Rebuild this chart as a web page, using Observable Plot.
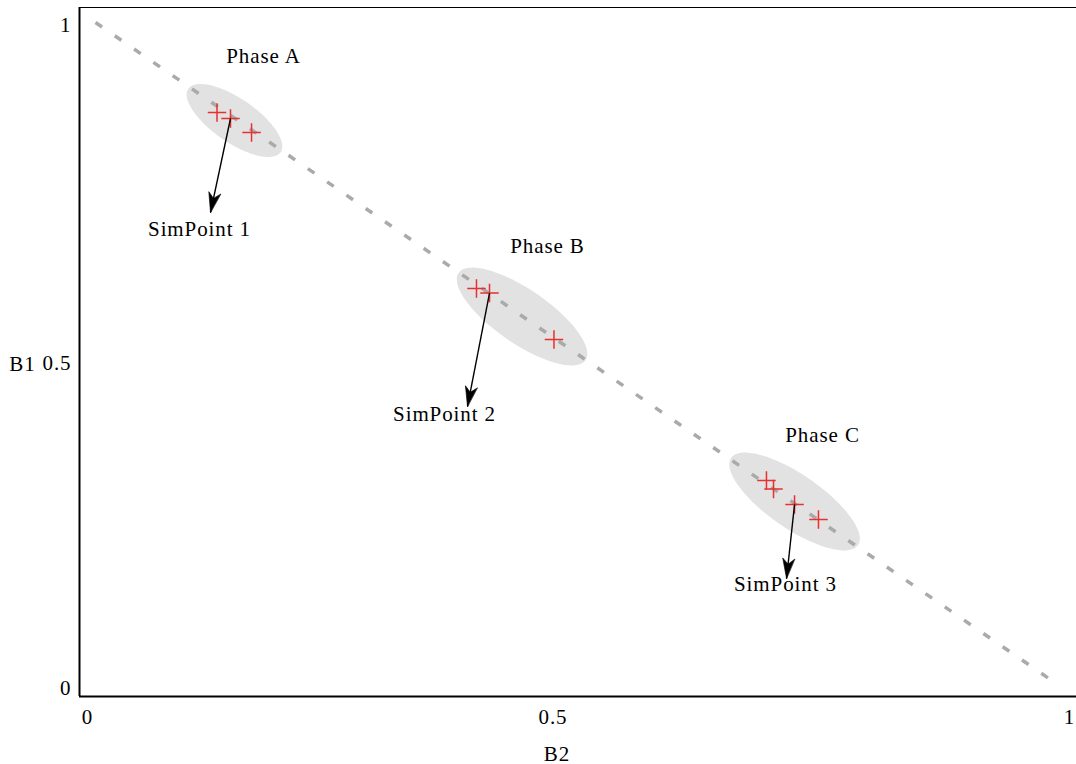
<!DOCTYPE html>
<html><head><meta charset="utf-8">
<script src="https://cdn.jsdelivr.net/npm/d3@7"></script>
<script src="https://cdn.jsdelivr.net/npm/@observablehq/plot@0.6"></script>
<style>body{margin:0;background:#fff}</style>
</head><body><div id="chart"></div>
<script>
// ---- data ----
const phaseNames = ["Phase A", "Phase B", "Phase C"];
const phaseCx = [0.1440, 0.4420, 0.7244];
const phaseCy = [0.8524, 0.5572, 0.2786];
const phaseLabelX = [0.1741, 0.4684, 0.7534];
const phaseLabelY = [0.9488, 0.6627, 0.3780];

const pointPhase = ["A", "A", "A", "B", "B", "B", "C", "C", "C", "C"];
const pointX = [0.1259, 0.1399, 0.1617, 0.3948, 0.4083, 0.4751, 0.6953, 0.7026, 0.7244, 0.7492];
const pointY = [0.8645, 0.8554, 0.8343, 0.5994, 0.5926, 0.5226, 0.3102, 0.2974, 0.2741, 0.2515];

const simLabels = ["SimPoint 1", "SimPoint 2", "SimPoint 3"];
const simFromX = [0.1399, 0.4083, 0.7244];
const simFromY = [0.8554, 0.5926, 0.2741];
const simTipX = [0.1192, 0.3855, 0.7161];
const simTipY = [0.7139, 0.4217, 0.1627];
const simLabelX = [0.1078, 0.3617, 0.7150];
const simLabelY = [0.6883, 0.4096, 0.1536];

const diagX = [0, 1];
const diagY = [1, 0];

const xTicks = [0, 0.5, 1];
const xTickLabels = ["0", "0.5", "1"];
const yTicks = [0, 0.5, 1];
const yTickLabels = ["0", "0.5", "1"];
const xLabel = "B2";
const yLabel = "B1";

// ---- layout ----
const W = 1076, H = 764;
const mL = 79, mR = 0, mT = 7, mB = 68;
const xDomain = [-0.01658, 1.01658];
const yDomain = [-0.01506, 1.02259];
const pxX = (W - mL - mR) / (xDomain[1] - xDomain[0]);
const pxY = (H - mT - mB) / (yDomain[1] - yDomain[0]);
const ellipseAxes = [[56, 22], [77, 27], [77, 27]]; // px semi-axes
const ellipseAngle = 34.5 * Math.PI / 180;
const xTickDx = [-8, -25, 9];
const yTickDy = [2, 9, 3];
const font = "Liberation Serif";
const fs = 21;

// ellipse outlines
const ellipsePts = [];
phaseNames.forEach((p, i) => {
  const [a, b] = ellipseAxes[i];
  for (let k = 0; k <= 90; k++) {
    const t = 2 * Math.PI * k / 90;
    const ex = a * Math.cos(t) * Math.cos(ellipseAngle) - b * Math.sin(t) * Math.sin(ellipseAngle);
    const ey = a * Math.cos(t) * Math.sin(ellipseAngle) + b * Math.sin(t) * Math.cos(ellipseAngle);
    ellipsePts.push({phase: p, x: phaseCx[i] + ex / pxX, y: phaseCy[i] - ey / pxY});
  }
});

const points = pointX.map((x, i) => ({x, y: pointY[i], phase: pointPhase[i]}));
const arrows = simLabels.map((s, i) => {
  const dx = (simTipX[i] - simFromX[i]) * pxX;
  const dy = -(simTipY[i] - simFromY[i]) * pxY;
  return {label: s, x1: simFromX[i], y1: simFromY[i], x2: simTipX[i], y2: simTipY[i],
          lx: simLabelX[i], ly: simLabelY[i], angle: Math.atan2(dx, -dy) * 180 / Math.PI};
});
const phaseLabels = phaseNames.map((p, i) => ({p, x: phaseLabelX[i], y: phaseLabelY[i]}));
const diag = diagX.map((x, i) => ({x, y: diagY[i]}));

const stealth = {
  draw(context, l, r) {
    context.moveTo(0, -l);
    context.lineTo(r, 0);
    context.lineTo(0, -l * 0.28);
    context.lineTo(-r, 0);
    context.closePath();
  }
};

const txt = {fontFamily: font, fontSize: fs, fill: "black"};

const chart = Plot.plot({
  width: W, height: H,
  marginLeft: mL, marginRight: mR, marginTop: mT, marginBottom: mB,
  style: {fontFamily: font, fontSize: fs + "px", letterSpacing: "0.9px", background: "white"},
  x: {domain: xDomain, axis: null},
  y: {domain: yDomain, axis: null},
  marks: [
    Plot.line(ellipsePts, {x: "x", y: "y", z: "phase", fill: "#e2e2e2", stroke: "none", curve: "linear-closed"}),
    Plot.line(diag, {x: "x", y: "y", stroke: "#aaaaaa", strokeWidth: 3.5, strokeDasharray: "8,15.43", strokeLinecap: "butt"}),
    Plot.dot(points, {x: "x", y: "y", symbol: "plus", r: 6, stroke: "#e8302e", strokeWidth: 1.5}),
    Plot.link(arrows, {x1: "x1", y1: "y1", x2: "x2", y2: "y2", stroke: "black", strokeWidth: 1.4}),
    Plot.vector(arrows, {x: "x2", y: "y2", rotate: "angle", length: 20, r: 6, shape: stealth, anchor: "end", fill: "black", stroke: "black", strokeWidth: 0.6}),
    Plot.text(phaseLabels, {x: "x", y: "y", text: "p", ...txt}),
    Plot.text(arrows, {x: "lx", y: "ly", text: "label", ...txt}),
    Plot.frame({stroke: "black", strokeWidth: 1}),
    Plot.ruleX([xDomain[0]], {stroke: "black", strokeWidth: 2}),
    Plot.ruleY([yDomain[0]], {stroke: "black", strokeWidth: 2}),
    ...xTicks.map((v, i) => Plot.text([v], {x: d => d, frameAnchor: "bottom", text: () => xTickLabels[i], dx: xTickDx[i], dy: 27, ...txt})),
    ...yTicks.map((v, i) => Plot.text([v], {y: d => d, frameAnchor: "left", text: () => yTickLabels[i], dx: -8, dy: yTickDy[i], textAnchor: "end", ...txt})),
    Plot.text([yLabel], {frameAnchor: "left", text: d => d, dx: -57, dy: 12, textAnchor: "middle", ...txt}),
    Plot.text([xLabel], {frameAnchor: "bottom", text: d => d, dx: -21, dy: 64, ...txt})
  ]
});
document.getElementById("chart").appendChild(chart);
</script>
</body></html>
